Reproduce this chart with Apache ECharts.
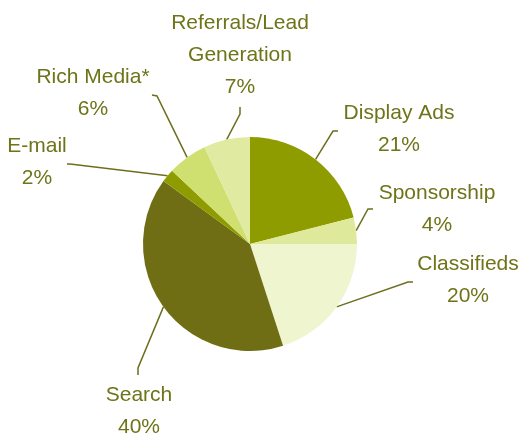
<!DOCTYPE html>
<html>
<head>
<meta charset="utf-8">
<script src="https://cdn.jsdelivr.net/npm/echarts@6/dist/echarts.min.js"></script>
<style>
  html, body { margin: 0; padding: 0; background: #ffffff; }
  #chart { width: 522px; height: 434px; }
</style>
</head>
<body>
<div id="chart"></div>
<script>
// Online advertising revenue share by format (percent)
const categories = ['Display Ads', 'Sponsorship', 'Classifieds', 'Search', 'E-mail', 'Rich Media*', 'Referrals/Lead\nGeneration'];
const shares = [21, 4, 20, 40, 2, 6, 7];
const sliceColors = ['#8f9c00', '#dfe99b', '#eef5cf', '#706e14', '#8f9c00', '#d0e070', '#e0eaa0'];

const CENTER = [250, 244];
const RADIUS = 107;

// Label placement: text block centre plus the elbow and end of each leader line
const labelSpots = [
  { x: 399, y: 129, elbow: [333, 131], end: [338, 131] },
  { x: 437, y: 209, elbow: [368, 209], end: [373, 209] },
  { x: 468, y: 280, elbow: [408, 282], end: [413, 282] },
  { x: 139, y: 411, elbow: [138, 368], end: [138, 375] },
  { x: 37,  y: 162, elbow: [70, 164],  end: [67, 164] },
  { x: 93,  y: 93,  elbow: [157, 96],  end: [152, 95] },
  { x: 240, y: 55,  elbow: [240, 114], end: [240, 107] }
];

// Point on the pie rim at the middle of slice i
const total = shares.reduce((a, b) => a + b, 0);
function rimPoint(i) {
  let before = 0;
  for (let k = 0; k < i; k++) before += shares[k];
  const a = (before + shares[i] / 2) / total * Math.PI * 2;
  return [CENTER[0] + RADIUS * Math.sin(a), CENTER[1] - RADIUS * Math.cos(a)];
}

const chart = echarts.init(document.getElementById('chart'), null, { renderer: 'canvas' });
chart.setOption({
  animation: false,
  backgroundColor: '#ffffff',
  series: [{
    type: 'pie',
    center: CENTER,
    radius: RADIUS,
    startAngle: 90,
    clockwise: true,
    avoidLabelOverlap: false,
    data: categories.map((name, i) => ({
      name: name,
      value: shares[i],
      itemStyle: { color: sliceColors[i] }
    })),
    itemStyle: { borderWidth: 0 },
    label: {
      show: true,
      formatter: p => p.name + '\n' + p.value + '%',
      fontFamily: 'Arial, "Liberation Sans", sans-serif',
      fontSize: 21,
      lineHeight: 32,
      color: '#6e7418',
      align: 'center'
    },
    labelLine: {
      show: true,
      lineStyle: { color: '#6e6e1e', width: 1.5 }
    },
    labelLayout: function (params) {
      const s = labelSpots[params.dataIndex];
      return {
        x: s.x,
        y: s.y,
        align: 'center',
        verticalAlign: 'middle',
        labelLinePoints: [rimPoint(params.dataIndex), s.elbow, s.end]
      };
    },
    emphasis: { disabled: true }
  }]
});
</script>
</body>
</html>
